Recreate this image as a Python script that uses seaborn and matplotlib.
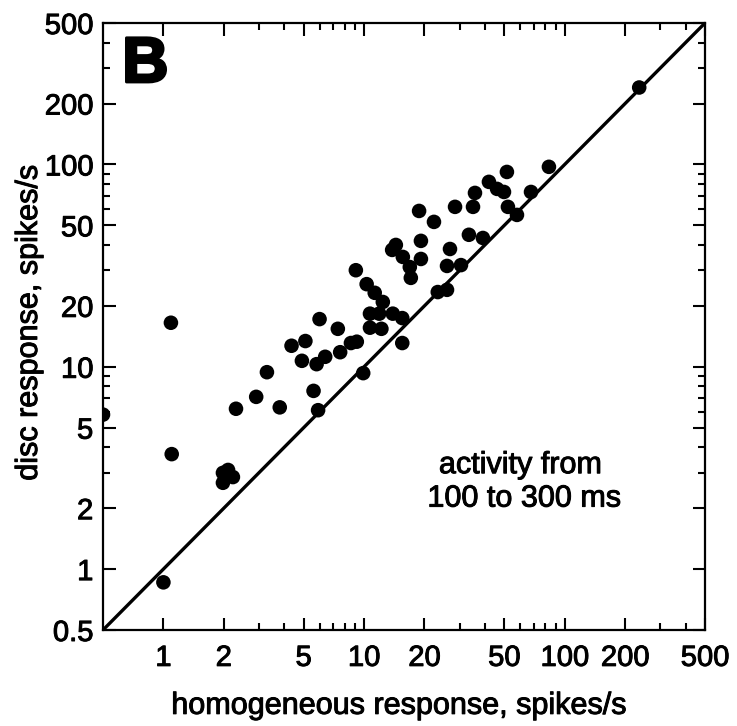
import matplotlib
matplotlib.use("Agg")
import matplotlib.pyplot as plt
import matplotlib.ticker as mticker
import matplotlib.patheffects as pe
import numpy as np
import pandas as pd
import seaborn as sns

# ---- data ----
homogeneous = [0.5, 1.09, 1.10, 1.0, 1.98, 2.10, 2.22, 1.98, 2.30, 2.90, 3.28, 3.80,
               4.35, 5.10, 4.90, 6.00, 5.80, 6.40, 7.40, 7.60, 8.60, 9.20, 5.60, 5.90,
               9.90, 9.10, 10.3, 11.3, 12.4, 10.7, 10.7, 12.2, 11.9, 13.9, 15.5, 15.5,
               13.8, 14.4, 15.6, 16.9, 17.1, 19.2, 19.2, 18.8, 22.3, 28.4, 26.8, 25.9,
               30.4, 23.3, 25.9, 33.3, 39.1, 34.9, 35.7, 41.9, 46.0, 49.8, 51.5, 52.1,
               57.8, 67.9, 83.4, 235.0]
disc = [5.8, 16.5, 3.7, 0.86, 2.99, 3.09, 2.85, 2.67, 6.2, 7.1, 9.4, 6.3,
        12.7, 13.4, 10.7, 17.2, 10.3, 11.2, 15.4, 11.8, 13.1, 13.3, 7.6, 6.1,
        9.3, 30.0, 25.6, 23.2, 20.9, 18.3, 15.6, 15.4, 18.3, 18.3, 17.4, 13.1,
        37.8, 40.0, 34.9, 31.1, 27.5, 41.9, 34.1, 58.9, 52.0, 61.7, 38.2, 31.5,
        31.8, 23.4, 24.0, 44.9, 43.3, 61.7, 72.3, 82.0, 75.7, 73.1, 91.8, 61.7,
        56.3, 73.1, 97.3, 240.0]
axis_limits = [0.5, 500]
y_major = [0.5, 1, 2, 5, 10, 20, 50, 100, 200, 500]
y_major_labels = ["0.5", "1", "2", "5", "10", "20", "50", "100", "200", "500"]
x_major = [1, 2, 5, 10, 20, 50, 100, 200, 500]
x_major_labels = ["1", "2", "5", "10", "20", "50", "100", "200", "500"]
minor_ticks = [3, 4, 6, 7, 8, 9, 30, 40, 60, 70, 80, 90, 300, 400]

df = pd.DataFrame({"homogeneous": homogeneous, "disc": disc})

sns.set_theme(style="ticks")
plt.rcParams["font.family"] = ["Liberation Sans", "DejaVu Sans"]

fig = plt.figure(figsize=(7.37, 7.26), dpi=100)
ax = fig.add_axes([103 / 737, 1 - 630 / 726, 602 / 737, 607 / 726])

ax.set_xscale("log")
ax.set_yscale("log")
ax.plot(axis_limits, axis_limits, color="black", lw=2.4, solid_capstyle="butt", zorder=2)
sns.scatterplot(data=df, x="homogeneous", y="disc", color="black", s=110,
                edgecolor="none", linewidth=0, ax=ax, zorder=3, legend=False)

ax.set_xlim(axis_limits)
ax.set_ylim(axis_limits)

ax.xaxis.set_major_locator(mticker.FixedLocator(x_major))
ax.xaxis.set_major_formatter(mticker.FixedFormatter(x_major_labels))
ax.yaxis.set_major_locator(mticker.FixedLocator(y_major))
ax.yaxis.set_major_formatter(mticker.FixedFormatter(y_major_labels))
ax.xaxis.set_minor_locator(mticker.FixedLocator(minor_ticks))
ax.yaxis.set_minor_locator(mticker.FixedLocator(minor_ticks))
ax.xaxis.set_minor_formatter(mticker.NullFormatter())
ax.yaxis.set_minor_formatter(mticker.NullFormatter())

ax.tick_params(which="both", direction="in", top=True, right=True, color="black",
               width=1.5, labelsize=21, labelcolor="black")
ax.tick_params(which="major", length=9)
ax.tick_params(which="minor", length=5)
ax.tick_params(axis="x", which="major", pad=10)
ax.tick_params(axis="y", which="major", pad=7)

for sp in ax.spines.values():
    sp.set_linewidth(1.6)
    sp.set_color("black")

heavy = [pe.withStroke(linewidth=0.7, foreground="black")]

ax.set_xlabel("homogeneous response, spikes/s", fontsize=22, color="black")
ax.set_ylabel("disc response, spikes/s", fontsize=22, color="black")
ax.xaxis.set_label_coords(0.49, -0.125)
ax.yaxis.set_label_coords(-0.123, 0.505)
ax.xaxis.label.set_va("center")
ax.yaxis.label.set_va("center")
ax.xaxis.label.set_path_effects(heavy)
ax.yaxis.label.set_path_effects(heavy)
for lab in ax.get_xticklabels() + ax.get_yticklabels():
    lab.set_path_effects(heavy)

ax.text(0.032, 0.903, "B", transform=ax.transAxes, fontsize=46, fontweight="bold",
        ha="left", va="baseline", color="black",
        path_effects=[pe.withStroke(linewidth=2.2, foreground="black")])
ax.text(0.693, 0.244, "activity from\n 100 to 300 ms", transform=ax.transAxes,
        fontsize=22, ha="center", va="center", multialignment="center",
        linespacing=1.15, color="black", path_effects=heavy)

fig.savefig("out.png", dpi=100, facecolor="white")
